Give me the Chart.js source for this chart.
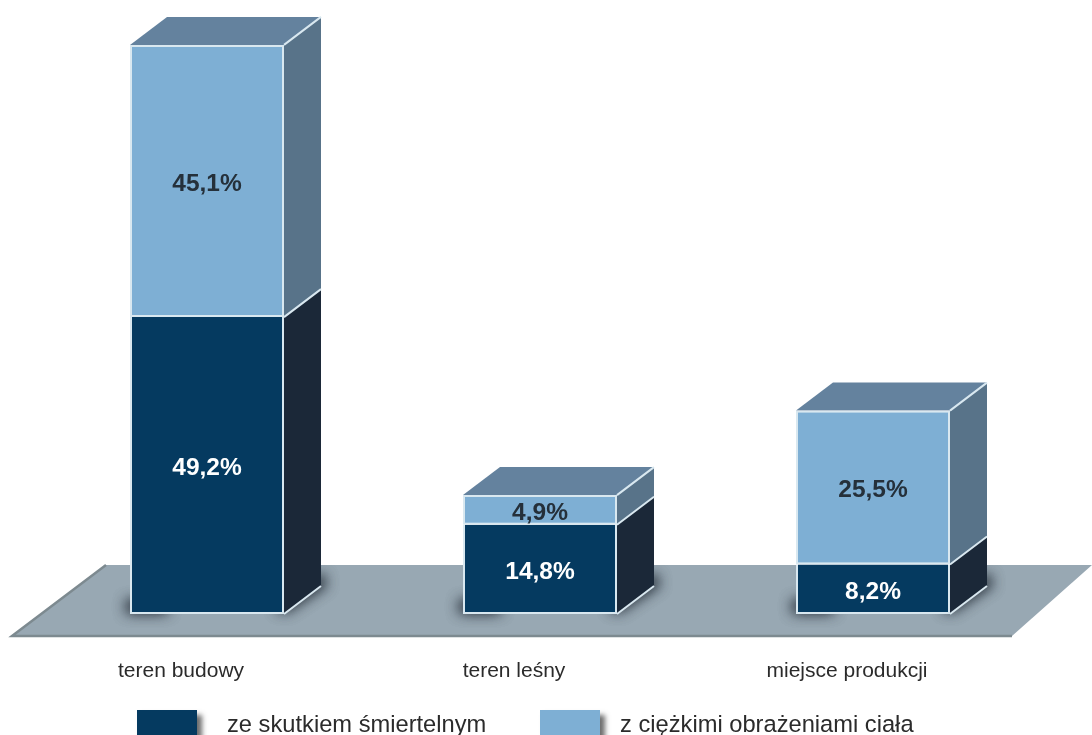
<!DOCTYPE html>
<html>
<head>
<meta charset="utf-8">
<title>Wypadki</title>
<script src="https://cdn.jsdelivr.net/npm/chart.js@4"></script>
<style>
html, body { margin: 0; padding: 0; background: #fff; overflow: hidden; }
canvas { display: block; }
</style>
</head>
<body>
<canvas id="chart" width="1092" height="735"></canvas>
<script>
var CATEGORIES = ["teren budowy", "teren leśny", "miejsce produkcji"];
var FATAL = [49.2, 14.8, 8.2];
var SEVERE = [45.1, 4.9, 25.5];
var FATAL_LABEL = "ze skutkiem śmiertelnym";
var SEVERE_LABEL = "z ciężkimi obrażeniami ciała";

var DARK = "#053a60";
var LIGHT = "#7eafd4";
var DARK_SIDE = "#1b2838";
var LIGHT_SIDE = "#587389";
var TOP = "#64829e";
var EDGE = "#d9e8f0";
var FLOOR = "#98a8b3";
var FONT = '"Liberation Sans", Arial, sans-serif';
var DEPTH_X = 37;
var DEPTH_Y = 28;
var FAR = 3000;

function poly(ctx, pts) {
  ctx.beginPath();
  ctx.moveTo(pts[0][0], pts[0][1]);
  for (var i = 1; i < pts.length; i++) ctx.lineTo(pts[i][0], pts[i][1]);
  ctx.closePath();
}

// floor, shadows and the fake 3d faces, all hung off the bar elements
var boxes = {
  id: "boxes",
  beforeDatasetsDraw: function (chart) {
    var ctx = chart.ctx;
    var floorPts = [[12, 636], [106, 565], [1092, 565], [1012, 636]];
    ctx.save();
    poly(ctx, floorPts);
    ctx.fillStyle = FLOOR;
    ctx.fill();
    ctx.strokeStyle = "#7d8a90";
    ctx.lineWidth = 2.5;
    ctx.beginPath();
    ctx.moveTo(106, 565);
    ctx.lineTo(12, 636);
    ctx.lineTo(1012, 636);
    ctx.stroke();
    ctx.restore();

    var low = chart.getDatasetMeta(0).data;
    var high = chart.getDatasetMeta(1).data;
    low.forEach(function (bar, i) {
      var l = bar.x - bar.width / 2;
      var r = bar.x + bar.width / 2;
      var base = bar.base;
      var mid = bar.y;
      var top = high[i].y;

      // only the blurred shadow lands on the floor, the shape itself is off canvas
      ctx.save();
      poly(ctx, floorPts);
      ctx.clip();
      ctx.shadowColor = "rgba(30,38,48,0.75)";
      ctx.shadowBlur = 14;
      ctx.shadowOffsetX = FAR;
      ctx.fillStyle = "#000";
      for (var n = 0; n < 2; n++) {
        ctx.fillRect(l - 3 - FAR, base - 13, 40, 11);
        poly(ctx, [[r - FAR, base - 2], [r + DEPTH_X + 5 - FAR, base - DEPTH_Y - 2], [r + DEPTH_X - FAR, base - DEPTH_Y - 12], [r - 8 - FAR, base - 8]]);
        ctx.fill();
      }
      ctx.restore();

      ctx.save();
      ctx.lineWidth = 2;
      ctx.strokeStyle = EDGE;
      ctx.lineJoin = "round";
      ctx.fillStyle = DARK_SIDE;
      poly(ctx, [[r, base], [r + DEPTH_X, base - DEPTH_Y], [r + DEPTH_X, mid - DEPTH_Y], [r, mid]]);
      ctx.fill();
      ctx.fillStyle = LIGHT_SIDE;
      poly(ctx, [[r, mid], [r + DEPTH_X, mid - DEPTH_Y], [r + DEPTH_X, top - DEPTH_Y], [r, top]]);
      ctx.fill();
      ctx.fillStyle = TOP;
      poly(ctx, [[l, top], [l + DEPTH_X, top - DEPTH_Y], [r + DEPTH_X, top - DEPTH_Y], [r, top]]);
      ctx.fill();
      ctx.beginPath();
      ctx.moveTo(r, base);
      ctx.lineTo(r + DEPTH_X, base - DEPTH_Y);
      ctx.moveTo(r, mid);
      ctx.lineTo(r + DEPTH_X, mid - DEPTH_Y);
      ctx.moveTo(r, top);
      ctx.lineTo(r + DEPTH_X, top - DEPTH_Y);
      ctx.stroke();
      ctx.restore();
    });
  },
  afterDatasetsDraw: function (chart) {
    var ctx = chart.ctx;
    ctx.save();
    ctx.font = "bold 24.5px " + FONT;
    ctx.textAlign = "center";
    ctx.textBaseline = "middle";
    chart.data.datasets.forEach(function (ds, d) {
      ctx.fillStyle = d === 0 ? "#ffffff" : "#25303a";
      chart.getDatasetMeta(d).data.forEach(function (bar, i) {
        var text = ds.data[i].toFixed(1).replace(".", ",") + "%";
        ctx.fillText(text, bar.x, (bar.y + bar.base) / 2 + 3);
      });
    });
    ctx.restore();
  },
  afterDraw: function (chart) {
    var ctx = chart.ctx;
    var spots = [{ box: 137, text: 227 }, { box: 540, text: 620 }];
    chart.data.datasets.forEach(function (ds, d) {
      ctx.save();
      ctx.shadowColor = "rgba(60,60,60,0.75)";
      ctx.shadowBlur = 5;
      ctx.shadowOffsetX = 5;
      ctx.shadowOffsetY = 5;
      ctx.fillStyle = ds.backgroundColor;
      ctx.fillRect(spots[d].box, 710, 60, 30);
      ctx.restore();
      ctx.save();
      ctx.font = "23.7px " + FONT;
      ctx.fillStyle = "#2b2b2b";
      ctx.textBaseline = "alphabetic";
      ctx.fillText(ds.label, spots[d].text, 732);
      ctx.restore();
    });
  }
};

new Chart(document.getElementById("chart"), {
  type: "bar",
  data: {
    labels: CATEGORIES,
    datasets: [
      { label: FATAL_LABEL, data: FATAL, backgroundColor: DARK, borderColor: EDGE, borderWidth: 2, borderSkipped: "top" },
      { label: SEVERE_LABEL, data: SEVERE, backgroundColor: LIGHT, borderColor: EDGE, borderWidth: 2, borderSkipped: false }
    ]
  },
  options: {
    responsive: false,
    animation: false,
    events: [],
    layout: { padding: { left: 40.5, right: 52.5, top: 10.5, bottom: 0 } },
    datasets: { bar: { categoryPercentage: 1, barPercentage: 154 / 333 } },
    plugins: { legend: { display: false }, tooltip: { enabled: false } },
    scales: {
      x: {
        stacked: true,
        grid: { display: false },
        border: { display: false },
        afterFit: function (scale) { scale.height = 121; },
        ticks: {
          color: "#2b2b2b",
          padding: 37,
          labelOffset: -26,
          maxRotation: 0,
          font: { family: FONT, size: 21 }
        }
      },
      y: { stacked: true, display: false, min: 0, max: 100 }
    }
  },
  plugins: [boxes]
});
</script>
</body>
</html>
